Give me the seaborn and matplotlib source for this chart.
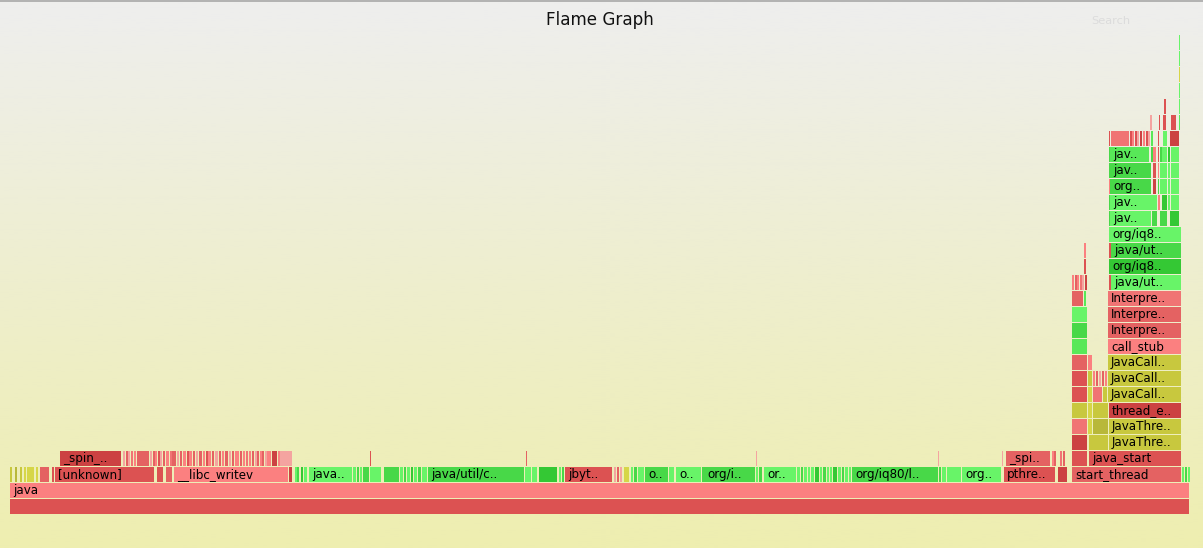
import numpy as np
import pandas as pd
import seaborn as sns
import matplotlib.pyplot as plt

# frames per depth: (start sample, samples, shown name, colour code)
depth0 = [(0, 1180, "", "R2")]
depth1 = [(0, 1180, "java", "R5")]
depth2 = [(0, 3, "", "Y2"), (5, 3, "", "Y1"), (10, 3, "", "Y2"), (14, 2, "", "Y3"), (17, 8, "", "Y3"),
          (26, 2, "", "Y3"), (30, 10, "", "R3"), (42, 2, "", "R2"),
          (45, 100, "[unknown]", "R2"), (147, 7, "", "R2"), (156, 7, "", "R3"),
          (164, 115, "__libc_writev", "R5"),
          (279, 4, "", "R1"), (285, 2, "", "G4"), (287, 3, "", "G2"), (291, 3, "", "G1"), (294, 4, "", "G4"),
          (299, 44, "java..", "G4"),
          (343, 4, "", "G4"), (347, 3, "", "G2"), (350, 3, "", "G4"), (353, 7, "", "G2"), (360, 12, "", "G4"),
          (374, 16, "", "G2"), (390, 4, "", "G4"), (394, 3, "", "G2"), (397, 4, "", "G4"), (401, 3, "", "G1"),
          (404, 4, "", "G4"), (408, 4, "", "G2"), (412, 6, "", "G4"),
          (418, 97, "java/util/c..", "G2"),
          (515, 7, "", "G4"), (522, 6, "", "G4"), (529, 19, "", "G1"), (549, 3, "", "G4"), (552, 3, "", "G2"),
          (555, 48, "jbyt..", "R2"),
          (604, 3, "", "R6"), (607, 3, "", "R3"), (610, 3, "", "R6"), (614, 6, "", "Y3"),
          (621, 3, "", "G4"), (624, 4, "", "G2"), (628, 7, "", "G4"),
          (635, 24, "o..", "G2"), (659, 6, "", "G4"), (666, 26, "o..", "G4"), (692, 2, "", "G2"),
          (694, 52, "org/i..", "G2"), (746, 3, "", "G4"), (749, 4, "", "G2"),
          (754, 33, "or..", "G4"),
          (787, 4, "", "G4"), (791, 3, "", "G2"), (794, 4, "", "G4"), (798, 3, "", "G4"), (801, 4, "", "G4"),
          (805, 5, "", "G1"), (810, 3, "", "G4"), (813, 4, "", "G2"), (817, 3, "", "G4"), (820, 3, "", "G4"),
          (823, 5, "", "G1"), (828, 4, "", "G4"), (832, 3, "", "G2"), (835, 4, "", "G4"), (839, 3, "", "G4"),
          (842, 87, "org/iq80/l..", "G2"),
          (929, 3, "", "G2"), (932, 5, "", "G4"), (937, 15, "", "G4"),
          (952, 40, "org..", "G4"), (994, 52, "pthre..", "R2"), (1048, 10, "", "R1"),
          (1062, 110, "start_thread", "R3"),
          (1172, 3, "", "G4"), (1175, 3, "", "G2"), (1178, 2, "", "G4")]
depth3 = [(50, 62, "_spin_..", "R1"),
          (113, 3, "", "R6"), (116, 2, "", "R3"), (118, 3, "", "R6"), (121, 3, "", "R4"), (124, 3, "", "R5"),
          (127, 13, "", "R3"), (140, 3, "", "R6"), (143, 2, "", "R3"), (145, 3, "", "R5"), (148, 2, "", "R2"),
          (150, 3, "", "R6"), (153, 3, "", "R3"), (156, 4, "", "R5"), (160, 2, "", "R4"), (162, 5, "", "R3"),
          (167, 3, "", "R6"), (170, 3, "", "R3"), (173, 4, "", "R5"), (177, 2, "", "R2"), (179, 4, "", "R5"),
          (183, 3, "", "R3"), (186, 3, "", "R6"), (189, 4, "", "R3"), (193, 3, "", "R5"), (196, 2, "", "R2"),
          (198, 4, "", "R5"), (202, 3, "", "R3"), (205, 4, "", "R6"), (209, 3, "", "R3"), (212, 3, "", "R5"),
          (215, 4, "", "R3"), (219, 3, "", "R6"), (222, 3, "", "R3"), (225, 5, "", "R5"), (230, 3, "", "R3"),
          (233, 3, "", "R5"), (236, 3, "", "R4"), (239, 3, "", "R5"), (242, 3, "", "R3"), (245, 2, "", "R6"),
          (247, 3, "", "R3"), (250, 2, "", "R5"), (252, 3, "", "R3"), (255, 2, "", "R6"), (257, 5, "", "R5"),
          (262, 6, "", "R1"), (268, 2, "", "R5"), (270, 13, "", "R6"),
          (360, 1, "", "R2"), (516, 1, "", "R3"), (746, 1, "", "R6"), (928, 0.6, "", "R6"), (992, 0.6, "", "R6"),
          (996, 45, "_spi..", "R3"), (1042, 2, "", "R5"), (1044, 2, "", "R3"), (1050, 3, "", "R4"),
          (1053, 3, "", "R3"), (1062, 16, "", "R2"), (1079, 93, "java_start", "R2")]
depth4 = [(1062, 16, "", "R1"), (1079, 20, "", "Y2"), (1099, 73, "JavaThre..", "Y2")]
depth5 = [(1062, 16, "", "R4"), (1078, 5, "", "Y3"), (1083, 16, "", "Y1"), (1099, 73, "JavaThre..", "Y2")]
depth6 = [(1062, 16, "", "Y2"), (1078, 5, "", "Y3"), (1083, 16, "", "Y2"), (1099, 73, "thread_e..", "R1")]
depth7 = [(1062, 16, "", "R2"), (1078, 5, "", "Y3"), (1083, 10, "", "R4"), (1093, 5, "", "Y2"),
          (1098, 74, "JavaCall..", "Y2")]
depth8 = [(1062, 16, "", "R2"), (1078, 5, "", "Y2"), (1083, 3, "", "R5"), (1086, 3, "", "R3"),
          (1089, 3, "", "R6"), (1092, 3, "", "R3"), (1095, 3, "", "R5"), (1098, 74, "JavaCall..", "Y2")]
depth9 = [(1062, 16, "", "R3"), (1078, 5, "", "R5"), (1098, 74, "JavaCall..", "Y2")]
depth10 = [(1062, 16, "", "G3"), (1098, 74, "call_stub", "R5")]
depth11 = [(1062, 16, "", "G2"), (1098, 74, "Interpre..", "R3")]
depth12 = [(1062, 16, "", "G4"), (1098, 74, "Interpre..", "R3")]
depth13 = [(1062, 12, "", "R3"), (1074, 3, "", "G3"), (1098, 74, "Interpre..", "R4")]
depth14 = [(1062, 3, "", "R5"), (1065, 2, "", "R3"), (1067, 3, "", "R5"), (1070, 2, "", "R4"),
           (1072, 3, "", "R6"), (1075, 3, "", "R1"), (1099, 2, "", "R2"), (1101, 71, "java/ut..", "G4")]
depth15 = [(1074, 3, "", "R2"), (1099, 73, "org/iq8..", "G1")]
depth16 = [(1074, 3, "", "R5"), (1099, 2, "", "R2"), (1101, 71, "java/ut..", "G2")]
depth17 = [(1099, 73, "org/iq8..", "G4")]
depth18 = [(1099, 1, "", "G2"), (1100, 42, "jav..", "G4"), (1142, 6, "", "G2"), (1150, 8, "", "G2"),
           (1160, 10, "", "G1")]
depth19 = [(1099, 1, "", "G2"), (1100, 48, "jav..", "G4"), (1148, 2, "", "R5"), (1152, 6, "", "G1"),
           (1158, 2, "", "G4"), (1161, 9, "", "G4")]
depth20 = [(1099, 1, "", "R5"), (1100, 42, "org..", "G2"), (1143, 4, "", "R1"), (1148, 1, "", "G2"),
           (1150, 2, "", "G4"), (1152, 6, "", "G4"), (1158, 2, "", "G4"), (1161, 9, "", "G4")]
depth21 = [(1099, 1, "", "G2"), (1100, 42, "jav..", "G2"), (1143, 4, "", "R2"), (1148, 1, "", "R5"),
           (1150, 2, "", "G4"), (1152, 6, "", "G4"), (1158, 2, "", "G4"), (1161, 9, "", "G4")]
depth22 = [(1099, 1, "", "G2"), (1100, 40, "jav..", "G3"), (1141, 2, "", "G2"), (1143, 4, "", "R5"),
           (1148, 1.5, "", "R2"), (1150, 2, "", "G2"), (1152, 6, "", "G4"), (1158, 2, "", "G1"),
           (1161, 9, "", "G4")]
depth23 = [(1099, 1, "", "R2"), (1101, 19, "", "R4"), (1120, 2, "", "R2"), (1122, 3, "", "R5"),
           (1125, 2, "", "R2"), (1127, 3, "", "R6"), (1130, 3, "", "R1"), (1133, 3, "", "R5"),
           (1136, 2, "", "R2"), (1138, 3, "", "R6"), (1141, 2, "", "G3"), (1148, 1, "", "R2"),
           (1153, 5, "", "G4"), (1160, 10, "", "R1")]
depth24 = [(1140, 2, "", "R6"), (1149, 1, "", "R2"), (1153, 4, "", "R2"), (1161, 6, "", "R2"),
           (1169.4, 1, "", "G3")]
depth25 = [(1154, 3, "", "R2"), (1169.4, 1, "", "G4")]
depth26 = [(1169.4, 1, "", "G4")]
depth27 = [(1169.4, 1, "", "Y3")]
depth28 = [(1169.4, 1, "", "G4")]
depth29 = [(1169.4, 1, "", "G4")]

stacks = [depth0, depth1, depth2, depth3, depth4, depth5, depth6, depth7, depth8, depth9,
          depth10, depth11, depth12, depth13, depth14, depth15, depth16, depth17, depth18, depth19,
          depth20, depth21, depth22, depth23, depth24, depth25, depth26, depth27, depth28, depth29]

palette = {"R1": "#cc4242", "R2": "#dc5252", "R3": "#e46262", "R4": "#f07474", "R5": "#fb8080",
           "R6": "#f4a4a0",
           "G1": "#34c834", "G2": "#48d848", "G3": "#58e858", "G4": "#68f468",
           "Y1": "#b8b83a", "Y2": "#c8c83e", "Y3": "#d6d648"}

rows = []
for d, frames in enumerate(stacks):
    for start, n, name, code in frames:
        rows.append({"depth": d, "start": start, "samples": n, "name": name, "code": code})
df = pd.DataFrame(rows)

sns.set_theme(style="white")
plt.rcParams['font.family'] = ['DejaVu Sans']

fig = plt.figure(figsize=(12.03, 5.48), dpi=100)
ax = fig.add_axes([0, 0, 1, 1])
ax.set_xlim(-10, 1193)
ax.set_ylim(-2.125, 32.125)

# background gradient
grad = np.linspace(0, 1, 256)
top = np.array([238, 238, 238]) / 255
bot = np.array([238, 238, 176]) / 255
img = (top[None, :] * (1 - grad[:, None]) + bot[None, :] * grad[:, None])[:, None, :]
ax.imshow(img, extent=(-10, 1193, -2.125, 32.125), aspect="auto", origin="upper", zorder=0)

w_eff = np.where(df["samples"] >= 3, df["samples"] - 0.8, df["samples"] * 0.85)
ax.barh(df["depth"], w_eff, left=df["start"], height=15 / 16, align="edge",
        color=[palette[c] for c in df["code"]], linewidth=0, zorder=2)

for _, r in df[df["name"] != ""].iterrows():
    ax.text(r["start"] + 3, r["depth"] + 0.45, r["name"], fontsize=8.6, color="black",
            va="center", ha="left", zorder=3)

ax.set_axis_off()
fig.text(600 / 1203, 1 - 20 / 548, "Flame Graph", fontsize=12.1, color="#111111", ha="center", va="center")
fig.text(1091 / 1203, 1 - 21 / 548, "Search", fontsize=8.2, color="#dcdcdc", ha="left", va="center")
fig.add_artist(plt.Line2D([0, 1], [1 - 0.6 / 548, 1 - 0.6 / 548], color="#a8a8a8", lw=1.2,
                          transform=fig.transFigure))

fig.savefig("out.png", dpi=100)
